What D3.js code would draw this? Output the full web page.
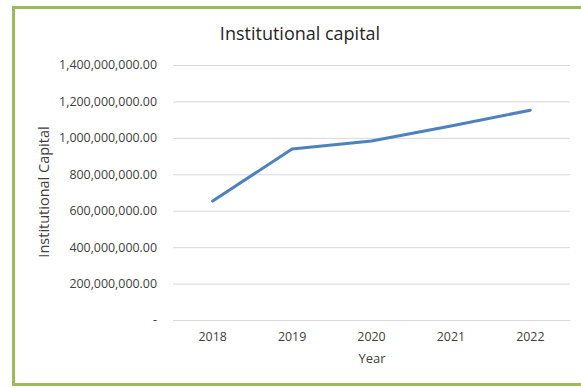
<!DOCTYPE html>
<html><head><meta charset="utf-8">
<script src="https://cdn.jsdelivr.net/npm/d3@7"></script>
<style>body{margin:0;background:#fff;}svg{display:block;font-family:"Open Sans","Noto Sans",sans-serif;}</style>
</head><body><svg id="c" width="581" height="388"></svg>
<script>
const years = ["2018","2019","2020","2021","2022"];
const capital = [653000000, 939000000, 983000000, 1065000000, 1152000000];
const yTicks = [0,200000000,400000000,600000000,800000000,1000000000,1200000000,1400000000];
const title = "Institutional capital";
const xTitle = "Year";
const yTitle = "Institutional Capital";

const svg = d3.select("#c");
svg.append("rect").attr("x",13.5).attr("y",7.5).attr("width",600).attr("height",377)
  .attr("fill","#fff").attr("stroke","#9BBB59").attr("stroke-width",3);

const x = d3.scaleBand().domain(years).range([173,570]);
const y = d3.scaleLinear().domain([0,1400000000]).range([320,65]);
const fmt = v => v===0 ? "-" : d3.format(",.2f")(v);

const ya = svg.append("g").attr("transform","translate(173,0)")
  .call(d3.axisLeft(y).tickValues(yTicks).tickSize(-397).tickPadding(16).tickFormat(fmt));
ya.select(".domain").remove();
ya.selectAll(".tick line").attr("stroke","#D9D9D9").attr("stroke-width",1);
ya.selectAll(".tick text").attr("fill","#404040").style("font-size","12.4px").attr("font-family","Open Sans");

const xa = svg.append("g").attr("transform","translate(0,320)")
  .call(d3.axisBottom(x).tickSize(0).tickPadding(12));
xa.select(".domain").attr("stroke","#D9D9D9");
xa.selectAll(".tick text").attr("fill","#404040").style("font-size","12.4px").attr("font-family","Open Sans");

const line = d3.line().x((d,i)=>x(years[i])+x.bandwidth()/2).y(d=>y(d));
svg.append("path").datum(capital).attr("d",line).attr("fill","none")
  .attr("stroke","#4F81BD").attr("stroke-width",3).attr("stroke-linecap","round").attr("stroke-linejoin","round");

svg.append("text").attr("x",300).attr("y",40).attr("text-anchor","middle")
  .attr("fill","#262626").style("font-size","18px").text(title);
svg.append("text").attr("x",372).attr("y",363).attr("text-anchor","middle")
  .attr("fill","#404040").style("font-size","13px").text(xTitle);
svg.append("text").attr("transform","translate(49,192) rotate(-90)").attr("text-anchor","middle")
  .attr("fill","#404040").style("font-size","14.5px").text(yTitle);
</script></body></html>
